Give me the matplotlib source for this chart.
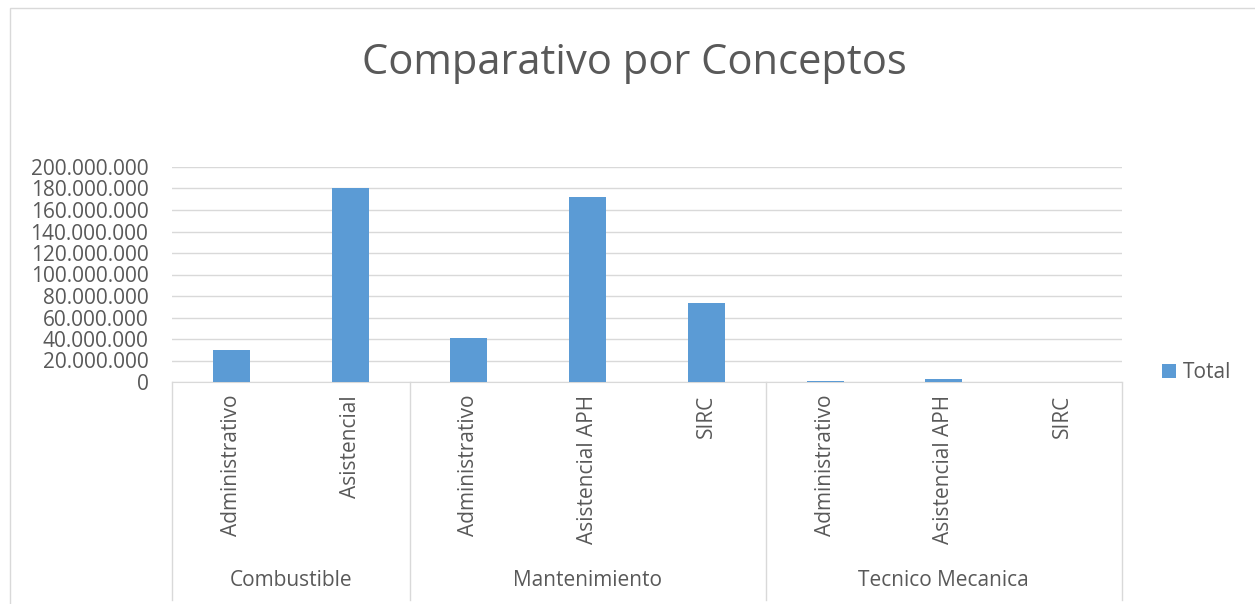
"""Comparativo por Conceptos - grouped category bar chart"""

import matplotlib.pyplot as plt
from matplotlib.ticker import FuncFormatter, MultipleLocator

# data
groups = ["Combustible", "Mantenimiento", "Tecnico Mecanica"]
subcats = [
    ["Administrativo", "Asistencial"],
    ["Administrativo", "Asistencial APH", "SIRC"],
    ["Administrativo", "Asistencial APH", "SIRC"],
]
totals = [
    [29800000, 180500000],
    [41000000, 172000000, 73500000],
    [800000, 2800000, 0],
]

BAR = "#5B9BD5"
TXT = "#595959"
GRID = "#D9D9D9"
FONT = ["Open Sans", "DejaVu Sans"]

plt.rcParams["font.family"] = FONT

fig = plt.figure(figsize=(12.55, 6.04), dpi=100)
W, H = 1255, 604
ax = fig.add_axes([172 / W, 1 - 382 / H, (1122 - 172) / W, (382 - 167) / H])

labels = [s for sub in subcats for s in sub]
values = [v for sub in totals for v in sub]
x = list(range(len(values)))
ax.bar(x, values, width=0.31, color=BAR, label="Total", zorder=3)

ax.set_xlim(-0.5, len(values) - 0.5)
ax.set_ylim(0, 200000000)
ax.yaxis.set_major_locator(MultipleLocator(20000000))
ax.yaxis.set_major_formatter(FuncFormatter(lambda v, p: f"{int(v):,}".replace(",", ".")))
ax.tick_params(axis="y", length=0, labelsize=15, labelcolor=TXT, pad=17)
ax.tick_params(axis="x", length=0, labelbottom=False)
ax.grid(axis="y", color=GRID, linewidth=1, zorder=0)
for side in ["top", "right", "left"]:
    ax.spines[side].set_visible(False)
ax.spines["bottom"].set_color(GRID)

# hierarchical category axis drawn below the plot
bottom_px = 600
to_ax = lambda py: (382 - py) / (382 - 167)
pos = -0.5
for g, sub in zip(groups, subcats):
    ax.plot([pos, pos], [0, to_ax(bottom_px)], transform=ax.get_xaxis_transform(),
            color=GRID, lw=1, clip_on=False)
    for i, s in enumerate(sub):
        ax.text(pos + 0.5 + i, to_ax(395), s, transform=ax.get_xaxis_transform(),
                rotation=90, ha="center", va="top", fontsize=15, color=TXT)
    ax.text(pos + len(sub) / 2, to_ax(580), g, transform=ax.get_xaxis_transform(),
            ha="center", va="center", fontsize=15, color=TXT)
    pos += len(sub)
ax.plot([pos, pos], [0, to_ax(bottom_px)], transform=ax.get_xaxis_transform(),
        color=GRID, lw=1, clip_on=False)

fig.text(634 / W, 1 - 63 / H, "Comparativo por Conceptos", ha="center", va="center",
         fontsize=30, color=TXT)

leg = ax.legend(loc="center left", bbox_to_anchor=(1152 / W, 1 - 373 / H),
                bbox_transform=fig.transFigure, frameon=False, fontsize=15,
                handlelength=0.65, handleheight=0.65, handletextpad=0.35, borderpad=0)
for t in leg.get_texts():
    t.set_color(TXT)

# chart border
fig.add_artist(plt.Rectangle((10 / W, -0.01), 1.1, 1 - 8 / H + 0.01, transform=fig.transFigure,
                             fill=False, edgecolor=GRID, lw=1))

fig.savefig("out.png", dpi=100)
